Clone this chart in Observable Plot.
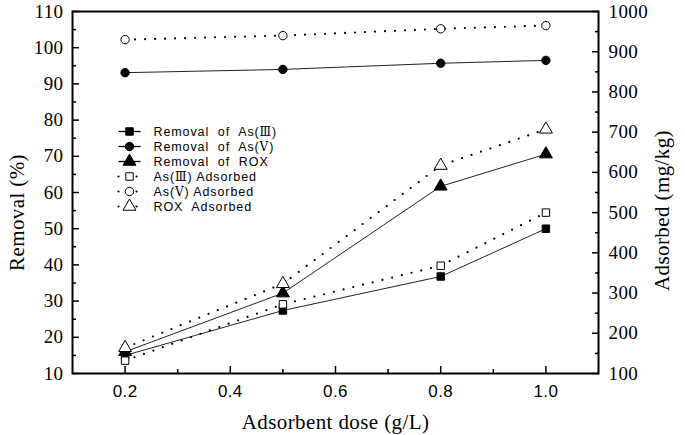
<!DOCTYPE html>
<html><head><meta charset="utf-8">
<script src="https://cdn.jsdelivr.net/npm/d3@7"></script>
<script src="https://cdn.jsdelivr.net/npm/@observablehq/plot@0.6"></script>
<style>body{margin:0;background:#fff} svg{white-space:pre} svg text{letter-spacing:0.4px}</style>
</head><body><div id="chart"></div>
<script>
// ---- data ----
const doses = [0.2, 0.5, 0.8, 1.0];
const removalAs3 = [15.0, 27.4, 36.8, 50.0];
const removalAs5 = [93.1, 94.0, 95.7, 96.5];
const removalROX = [16.0, 32.2, 61.7, 70.6];
const adsorbedAs3 = [132, 272, 368, 500];
const adsorbedAs5 = [930, 940, 957, 965];
const adsorbedROX = [164, 323, 617, 707];
const xTicks = [0.2, 0.4, 0.6, 0.8, 1.0];
const xMinor = [0.3, 0.5, 0.7, 0.9];
const leftTicks = [10, 20, 30, 40, 50, 60, 70, 80, 90, 100, 110];
const leftMinor = [15, 25, 35, 45, 55, 65, 75, 85, 95, 105];
const rightTicks = [100, 200, 300, 400, 500, 600, 700, 800, 900, 1000];
const rightMinor = [150, 250, 350, 450, 550, 650, 750, 850, 950];
const legendLabels = ["Removal  of  As(\u2162)", "Removal  of  As(\u2164)", "Removal  of  ROX",
  "As(\u2162) Adsorbed", "As(\u2164) Adsorbed", "ROX  Adsorbed"];

// right axis values mapped into the left (Removal) scale
const toLeft = d3.scaleLinear([100, 1000], [10, 110]);

const series = [
  {values: removalAs3, right: false, symbol: "square", fill: "black", dotted: false},
  {values: removalAs5, right: false, symbol: "circle", fill: "black", dotted: false},
  {values: removalROX, right: false, symbol: "triangle", fill: "black", dotted: false},
  {values: adsorbedAs3, right: true, symbol: "square", fill: "white", dotted: true},
  {values: adsorbedAs5, right: true, symbol: "circle", fill: "white", dotted: true},
  {values: adsorbedROX, right: true, symbol: "triangle", fill: "white", dotted: true}
];
series.forEach((s, i) => s.label = legendLabels[i]);

const serif = "'Liberation Serif', 'Times New Roman', serif";
const sans = "'Liberation Sans', Arial, sans-serif";
const rOf = (s) => s.symbol === "triangle" ? 4.8 : 4.2;

const lineStyle = (s) => s.dotted
  ? {stroke: "black", strokeWidth: 2.2, strokeDasharray: "0,10", strokeLinecap: "round"}
  : {stroke: "#222", strokeWidth: 1};

const marks = [];
for (const s of series) {
  const rows = doses.map((d, j) => ({x: d, y: s.right ? toLeft(s.values[j]) : s.values[j]}));
  marks.push(Plot.line(rows, {x: "x", y: "y", ...lineStyle(s)}));
}
for (const s of series) {
  const rows = doses.map((d, j) => ({x: d, y: s.right ? toLeft(s.values[j]) : s.values[j]}));
  marks.push(Plot.dot(rows, {x: "x", y: "y", symbol: () => s.symbol, r: rOf(s),
    fill: s.fill, stroke: "black", strokeWidth: 1}));
}

// legend
const hline = {draw(ctx) { ctx.moveTo(-11, 0); ctx.lineTo(11, 0); }};
series.forEach((s, i) => {
  const dy = 120 + i * 15;
  marks.push(Plot.dot([0], {frameAnchor: "top-left", dx: 57, dy, symbol: hline, r: 1, fill: "none",
    ...(s.dotted ? {stroke: "black", strokeWidth: 2.2, strokeDasharray: "0,9", strokeLinecap: "round"} : {stroke: "black", strokeWidth: 1.3})}));
  marks.push(Plot.dot([0], {frameAnchor: "top-left", dx: 57, dy, symbol: s.symbol, r: rOf(s),
    fill: s.fill, stroke: "black", strokeWidth: 1}));
  marks.push(Plot.text([s.label], {text: d => d, frameAnchor: "top-left", dx: 81, dy, textAnchor: "start",
    lineAnchor: "middle", fontFamily: sans, fontSize: 12.5, fill: "black"}));
});

// tick marks (inward)
marks.push(
  Plot.axisX({ticks: xTicks, tickSize: -7, tickFormat: () => "", label: null, strokeWidth: 1.5}),
  Plot.axisX({ticks: xMinor, tickSize: -4, tickFormat: () => "", label: null, strokeWidth: 1.5}),
  Plot.axisY({anchor: "left", ticks: leftTicks, tickSize: -7, tickFormat: () => "", label: null, strokeWidth: 1.5}),
  Plot.axisY({anchor: "left", ticks: leftMinor, tickSize: -4, tickFormat: () => "", label: null, strokeWidth: 1.5}),
  Plot.axisY({anchor: "right", ticks: rightTicks.map(toLeft), tickSize: -7, tickFormat: () => "", label: null, strokeWidth: 1.5}),
  Plot.axisY({anchor: "right", ticks: rightMinor.map(toLeft), tickSize: -4, tickFormat: () => "", label: null, strokeWidth: 1.5}),
  Plot.frame({stroke: "black", strokeWidth: 2})
);
// tick labels
marks.push(
  Plot.text(xTicks, {x: d => d, text: d3.format(".1f"), frameAnchor: "bottom", dy: 18, lineAnchor: "middle",
    fontFamily: sans, fontSize: 17, fill: "black"}),
  Plot.text(leftTicks, {y: d => d, text: d => String(d), frameAnchor: "left", dx: -9, textAnchor: "end",
    lineAnchor: "middle", fontFamily: serif, fontSize: 19, fill: "black"}),
  Plot.text(rightTicks, {y: d => toLeft(d), text: d => String(d), frameAnchor: "right", dx: 10, textAnchor: "start",
    lineAnchor: "middle", fontFamily: serif, fontSize: 19, fill: "black"})
);
// axis titles
marks.push(
  Plot.text(["Adsorbent dose (g/L)"], {text: d => d, frameAnchor: "bottom", dy: 49, textAnchor: "middle", lineAnchor: "middle", fontFamily: serif, fontSize: 21, fill: "black"}),
  Plot.text(["Removal (%)"], {text: d => d, frameAnchor: "left", dx: -55, dy: 20, rotate: -90, textAnchor: "middle", lineAnchor: "middle", fontFamily: serif, fontSize: 21, fill: "black"}),
  Plot.text(["Adsorbed (mg/kg)"], {text: d => d, frameAnchor: "right", dx: 64, dy: 18, rotate: -90, textAnchor: "middle", lineAnchor: "middle", fontFamily: serif, fontSize: 21, fill: "black"})
);

const chart = Plot.plot({
  width: 685, height: 435,
  marginLeft: 72, marginRight: 87, marginTop: 11, marginBottom: 62,
  x: {domain: [0.1, 1.1], axis: null},
  y: {domain: [10, 110], axis: null},
  style: {background: "white", color: "black", overflow: "visible"},
  marks
});
// legend texts: slightly wider spacing; roman numerals in a compact serif font with full coverage
d3.select(chart).selectAll("text").each(function () {
  const t = this.textContent;
  if (!legendLabels.includes(t)) return;
  const sel = d3.select(this).style("letter-spacing", "0.9px");
  if (!/[\u2162\u2164]/.test(t)) return;
  sel.text(null);
  for (const part of t.split(/([\u2162\u2164])/)) {
    if (!part) continue;
    const ts = sel.append("tspan").text(part);
    if (/[\u2162\u2164]/.test(part)) ts.attr("font-family", "'DejaVu Serif', 'DejaVu Sans', serif").attr("font-size", 12);
  }
});
document.getElementById("chart").append(chart);
</script>
</body></html>
